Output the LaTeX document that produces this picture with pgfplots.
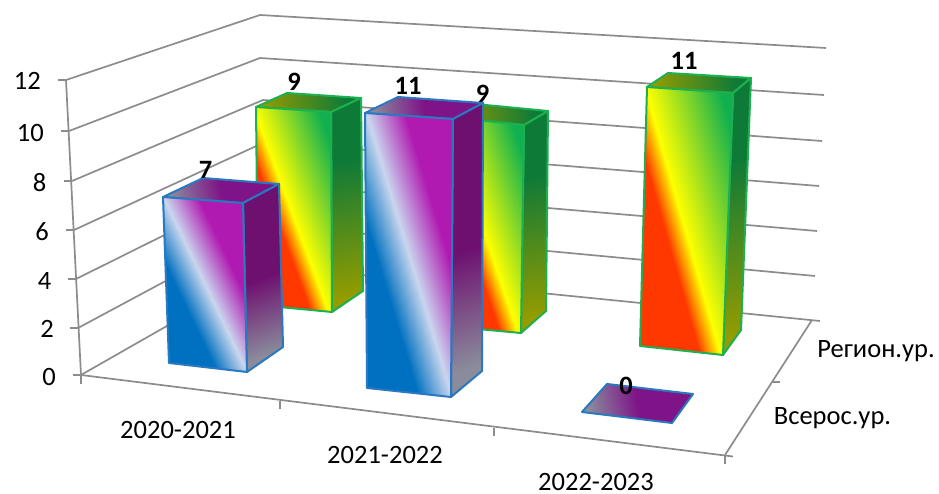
\documentclass[border=0pt]{standalone}
\usepackage{pgfplots}
\pgfplotsset{compat=1.18}
\usepackage{fontspec}
\setmainfont{Carlito}
\definecolor{gridc}{HTML}{8C8C8C}
\definecolor{bstroke}{HTML}{2A78C0}
\definecolor{gstroke}{HTML}{1DB050}
\definecolor{bA}{HTML}{0070C0}
\definecolor{bB}{HTML}{C9D6EE}
\definecolor{bC}{HTML}{B01AB0}
\definecolor{bS}{HTML}{6E1070}
\definecolor{bG}{HTML}{8A8C9C}
\definecolor{bM}{HTML}{7E1488}
\definecolor{gA}{HTML}{FF3800}
\definecolor{gB}{HTML}{FFFF00}
\definecolor{gC}{HTML}{10B050}
\definecolor{gS}{HTML}{0E7A38}
\definecolor{gG}{HTML}{949C00}
\pgfdeclareverticalshading{bfront}{100bp}{color(0bp)=(bA); color(25bp)=(bA); color(38bp)=(bA); color(50bp)=(bB); color(64bp)=(bC); color(100bp)=(bC)}
\pgfdeclareverticalshading{bside}{100bp}{color(0bp)=(bG); color(25bp)=(bG); color(50bp)=(bS); color(100bp)=(bS)}
\pgfdeclareverticalshading{btop}{100bp}{color(0bp)=(bG); color(25bp)=(bG); color(50bp)=(bM); color(100bp)=(bM)}
\pgfdeclareverticalshading{gfront}{100bp}{color(0bp)=(gA); color(25bp)=(gA); color(41bp)=(gA); color(48.5bp)=(gB); color(76bp)=(gC); color(100bp)=(gC)}
\pgfdeclareverticalshading{gside}{100bp}{color(0bp)=(gG); color(25bp)=(gG); color(62bp)=(gS); color(100bp)=(gS)}
\pgfdeclareverticalshading{gtop}{100bp}{color(0bp)=(gG); color(25bp)=(gG); color(70bp)=(gS); color(100bp)=(gS)}
\pgfplotsset{
  grid line/.style={draw=gridc,line width=1.7pt,forget plot},
  bface/.style={shade,shading=#1,draw=bstroke,line width=2pt,line join=round,forget plot},
  gface/.style={shade,shading=#1,draw=gstroke,line width=2pt,line join=round,forget plot},
}
\begin{document}
\begin{tikzpicture}
\begin{axis}[
  width=939pt,height=494pt,scale only axis,
  xmin=0,xmax=939,ymin=0,ymax=494,y dir=reverse,
  hide axis,clip=false,
  every axis plot/.append style={mark=none},
]
\addplot[draw=none,forget plot] coordinates {(0,0)(939,0)(939,494)(0,494)(0,0)};
% walls
\addplot[grid line] coordinates {(66,80)(81,375)};
\addplot[grid line] coordinates {(66,80)(260,15)(826,48)};
\addplot[grid line] coordinates {(69,131)(260,58)(824,95)};
\addplot[grid line] coordinates {(72,181)(263,100)(822,141)};
\addplot[grid line] coordinates {(74,230)(265,142)(819,186)};
\addplot[grid line] coordinates {(76,279)(267,184)(817,231)};
\addplot[grid line] coordinates {(78,328)(270,225)(815,276)};
\addplot[grid line] coordinates {(81,375)(272,266)(820,321)};
% floor
\addplot[grid line] coordinates {(81,375)(733,456.5)};
\addplot[grid line] coordinates {(725,455)(812,320)};
% ticks
\addplot[grid line] coordinates {(58,80)(66,80)};
\addplot[grid line] coordinates {(61,131)(69,131)};
\addplot[grid line] coordinates {(64,181)(72,181)};
\addplot[grid line] coordinates {(66,230)(74,230)};
\addplot[grid line] coordinates {(68,279)(76,279)};
\addplot[grid line] coordinates {(70,328)(78,328)};
\addplot[grid line] coordinates {(73,375)(81,375)};
\addplot[grid line] coordinates {(81,375)(81,384)};
\addplot[grid line] coordinates {(280,401)(280,409)};
\addplot[grid line] coordinates {(494,428)(494,436)};
\addplot[grid line] coordinates {(725,455)(725,464)};
\addplot[grid line] coordinates {(773,382)(780,382)};
% Регион.ур. : 9, 9, 11
\addplot[gface=gtop,shading angle=-80] coordinates {(256,107)(287,93)(361,98)(331,112)} --cycle;
\addplot[gface=gside,shading angle=12] coordinates {(331,112)(361,98)(363,291)(332,312)} --cycle;
\addplot[gface=gfront,shading angle=-69.7] coordinates {(256,107)(331,112)(332,312)(258,305)} --cycle;
\addplot[gface=gtop,shading angle=-80] coordinates {(447,117)(475,104)(548,111)(524,125)} --cycle;
\addplot[gface=gside,shading angle=12] coordinates {(524,125)(548,111)(546,311)(521,333)} --cycle;
\addplot[gface=gfront,shading angle=-71.1] coordinates {(447,117)(524,125)(521,333)(445,326)} --cycle;
\addplot[gface=gtop,shading angle=-80] coordinates {(647,87)(668,73)(751,78)(733,93)} --cycle;
\addplot[gface=gside,shading angle=12] coordinates {(733,93)(751,78)(741,330)(723,355)} --cycle;
\addplot[gface=gfront,shading angle=-74.2] coordinates {(647,87)(733,93)(723,355)(640,346)} --cycle;
% Всерос.ур. : 7, 11, 0
\addplot[bface=btop,shading angle=-80] coordinates {(163,197)(203,178)(279,184)(243,203)} --cycle;
\addplot[bface=bside,shading angle=20] coordinates {(243,203)(279,184)(283,347)(247,372)} --cycle;
\addplot[bface=bfront,shading angle=-64.4] coordinates {(163,197)(243,203)(247,372)(169,363)} --cycle;
\addplot[bface=btop,shading angle=-80] coordinates {(365,113)(398,97)(483,103)(453,119)} --cycle;
\addplot[bface=bside,shading angle=20] coordinates {(453,119)(483,103)(482,371)(451,397)} --cycle;
\addplot[bface=bfront,shading angle=-73.2] coordinates {(365,113)(453,119)(451,397)(367,388)} --cycle;
\addplot[bface=btop,shading angle=-80] coordinates {(582,412)(607,384)(693,394)(672,423)} --cycle;
% labels
\begin{scope}[every node/.style={inner sep=0pt,font=\fontsize{26.5}{30}\selectfont}]
\node[anchor=east] at (41,81) {12};
\node[anchor=east] at (44,133) {10};
\node[anchor=east] at (46.5,183) {8};
\node[anchor=east] at (49,232) {6};
\node[anchor=east] at (51.5,281) {4};
\node[anchor=east] at (54,329) {2};
\node[anchor=east] at (56,377) {0};
\node at (178,430) {2020-2021};
\node at (385,455) {2021-2022};
\node at (596,482) {2022-2023};
\node at (876,351) {Регион.ур.};
\node at (832.5,418) {Всерос.ур.};
\node[font=\fontsize{26.5}{30}\selectfont\bfseries] at (205.5,170) {7};
\node[font=\fontsize{26.5}{30}\selectfont\bfseries] at (294,82) {9};
\node[font=\fontsize{26.5}{30}\selectfont\bfseries] at (408,86) {11};
\node[font=\fontsize{26.5}{30}\selectfont\bfseries] at (482.5,94) {9};
\node[font=\fontsize{26.5}{30}\selectfont\bfseries] at (684,61) {11};
\node[font=\fontsize{26.5}{30}\selectfont\bfseries] at (626,386) {0};
\end{scope}
\end{axis}
\end{tikzpicture}
\end{document}
